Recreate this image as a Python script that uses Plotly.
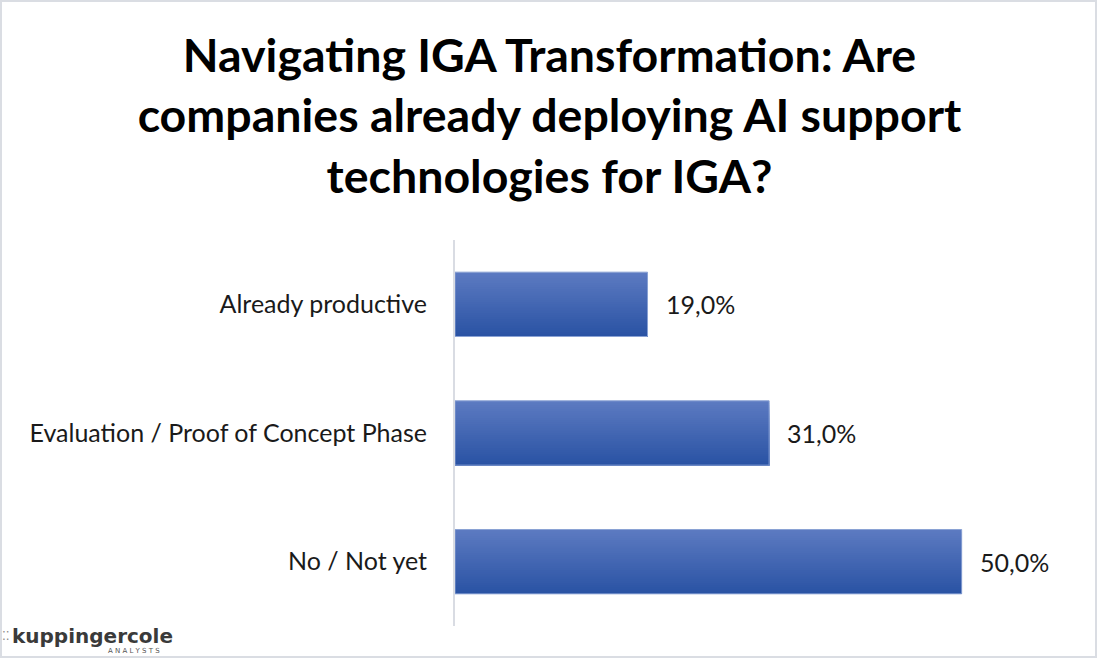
import plotly.graph_objects as go

categories = ["Already productive", "Evaluation / Proof of Concept Phase", "No / Not yet"]
values = [0.19, 0.31, 0.50]
value_labels = [f"{v*100:.1f}%".replace(".", ",") for v in values]
title_text = "Navigating IGA Transformation: Are<br>companies already deploying AI support<br>technologies for IGA?"

W, H = 1099, 660
ML, MR, MT, MB = 455, 36, 240, 34
PW, PH = W - ML - MR, H - MT - MB

top_rgb = (92, 122, 193)
bot_rgb = (42, 83, 164)
N = 30
bar_w = 0.5

fig = go.Figure()
for i in range(N):
    t = i / (N - 1)
    c = tuple(round(top_rgb[k] + (bot_rgb[k] - top_rgb[k]) * t) for k in range(3))
    fig.add_trace(go.Bar(
        y=categories, x=values, orientation="h",
        width=bar_w - i * bar_w / N, offset=-bar_w / 2 + i * bar_w / N,
        marker=dict(color=f"rgb{c}", line=dict(width=0)),
        hoverinfo="skip", showlegend=False,
    ))
fig.add_trace(go.Bar(
    y=categories, x=values, orientation="h",
    width=bar_w, offset=-bar_w / 2,
    marker=dict(color="rgba(0,0,0,0)", line=dict(color="#8AA2D4", width=1)),
    showlegend=False,
))

for c, v, lab in zip(categories, values, value_labels):
    fig.add_annotation(x=v, y=c, text=lab, showarrow=False, xanchor="left",
                       xshift=16, font=dict(family="Lato", size=25, color="#1a1a1a"))

def px_x(p):
    return (p - ML) / PW

def px_y(p):
    return 1 - (p - MT) / PH

# outer border
fig.add_shape(type="rect", xref="paper", yref="paper",
              x0=px_x(1), x1=px_x(W - 3), y0=px_y(H - 3), y1=px_y(1),
              line=dict(color="#DADDE3", width=2), fillcolor="rgba(0,0,0,0)", layer="below")

# logo
fig.add_annotation(xref="paper", yref="paper", x=px_x(10), y=px_y(636), xanchor="left", yanchor="middle",
                   text="<b>kuppingercole</b>", showarrow=False,
                   font=dict(family="DejaVu Sans", size=20, color="#3a3a3a"))
fig.add_annotation(xref="paper", yref="paper", x=px_x(0), y=px_y(636), xanchor="left", yanchor="middle",
                   text="⁚⁚", showarrow=False,
                   font=dict(family="DejaVu Sans", size=12, color="#8a8a8a"))
fig.add_annotation(xref="paper", yref="paper", x=px_x(106), y=px_y(651), xanchor="left", yanchor="middle",
                   text="A N A L Y S T S", showarrow=False,
                   font=dict(family="DejaVu Sans", size=7, color="#555555"))

fig.update_layout(
    width=W, height=H,
    margin=dict(l=ML, r=MR, t=MT, b=MB),
    paper_bgcolor="white", plot_bgcolor="white",
    barmode="overlay",
    title=dict(text=title_text, x=0.5, xref="container", xanchor="center",
               y=1 - 72 / H, yref="container", yanchor="middle",
               font=dict(family="Lato", size=46.5, color="black", weight="bold")),
    xaxis=dict(range=[0, 0.6], visible=False, showgrid=False, zeroline=False),
    yaxis=dict(autorange="reversed", showline=True, linecolor="#D9DCE3", linewidth=2,
               ticks="", ticklabelstandoff=21, showgrid=False,
               tickfont=dict(family="Lato", size=25, color="#1a1a1a")),
)

fig.write_html("out.html", config={"displayModeBar": False},
               post_script="document.body.style.margin='0';document.body.style.overflow='hidden';")
